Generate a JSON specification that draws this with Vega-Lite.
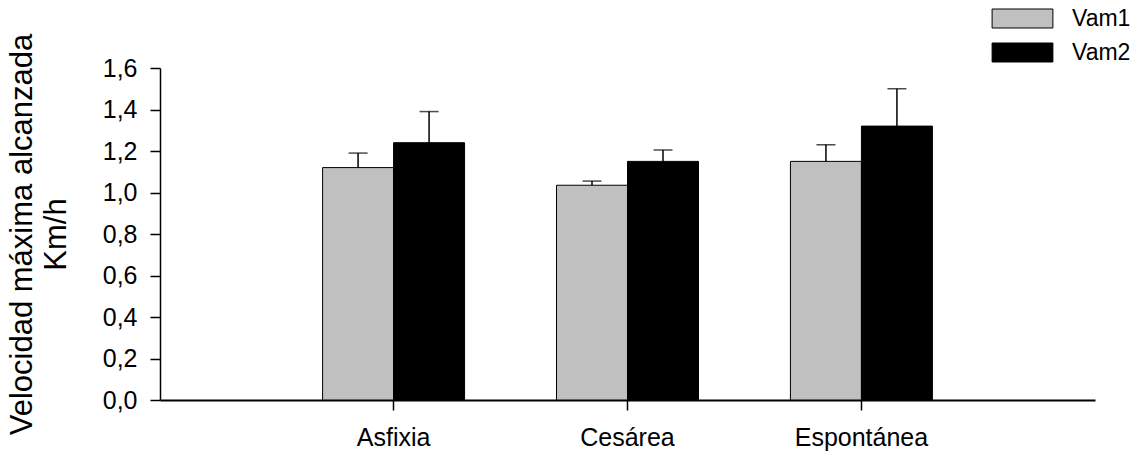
{
  "$schema": "https://vega.github.io/schema/vega-lite/v6.json",
  "width": 935,
  "height": 332,
  "autosize": "none",
  "padding": {"left": 160, "top": 68, "right": 47, "bottom": 52},
  "background": "white",
  "config": {
    "view": {"stroke": null},
    "font": "Liberation Sans",
    "axis": {"grid": false, "domainColor": "#000", "tickColor": "#000", "labelColor": "#000", "titleColor": "#000"}
  },
  "data": {
    "values": [
      {"grupo": "Asfixia", "serie": "Vam1", "valor": 1.12, "sup": 1.19},
      {"grupo": "Asfixia", "serie": "Vam2", "valor": 1.24, "sup": 1.39},
      {"grupo": "Cesárea", "serie": "Vam1", "valor": 1.035, "sup": 1.055},
      {"grupo": "Cesárea", "serie": "Vam2", "valor": 1.15, "sup": 1.205},
      {"grupo": "Espontánea", "serie": "Vam1", "valor": 1.15, "sup": 1.23},
      {"grupo": "Espontánea", "serie": "Vam2", "valor": 1.32, "sup": 1.5}
    ]
  },
  "encoding": {
    "x": {
      "field": "grupo", "type": "nominal", "sort": ["Asfixia", "Cesárea", "Espontánea"],
      "scale": {"paddingInner": 0.393, "paddingOuter": 0.695},
      "axis": {"title": null, "labelAngle": 0, "labelFontSize": 25, "tickSize": 10, "labelPadding": 15, "domainWidth": 2, "tickWidth": 1.5}
    },
    "xOffset": {"field": "serie", "type": "nominal", "scale": {"paddingInner": 0, "paddingOuter": 0}}
  },
  "layer": [
    {
      "mark": {"type": "bar", "stroke": "#000", "strokeWidth": 1},
      "encoding": {
        "y": {
          "field": "valor", "type": "quantitative",
          "scale": {"domain": [0, 1.6], "nice": false},
          "axis": {
            "values": [0, 0.2, 0.4, 0.6, 0.8, 1.0, 1.2, 1.4, 1.6],
            "labelExpr": "replace(format(datum.value, '.1f'), '.', ',')",
            "labelFontSize": 25, "tickSize": 10, "labelPadding": 13,
            "domainWidth": 1.5, "tickWidth": 1.5,
            "title": ["Velocidad máxima alcanzada", "Km/h"],
            "titleFontSize": 31, "titleFontWeight": "normal", "titleLineHeight": 34, "titlePadding": 30
          }
        },
        "color": {
          "field": "serie", "type": "nominal",
          "scale": {"domain": ["Vam1", "Vam2"], "range": ["#c0c0c0", "#000000"]},
          "legend": {
            "orient": "none", "legendX": 851, "legendY": -61, "title": null, "padding": 0,
            "symbolType": "M-3.2,-1H3.2V1H-3.2Z", "symbolSize": 361,
            "symbolStrokeColor": "#000", "symbolStrokeWidth": 1,
            "labelFontSize": 23, "labelOffset": 38, "rowPadding": 10, "labelColor": "#000"
          }
        }
      }
    },
    {
      "mark": {"type": "rule", "strokeWidth": 1.5, "color": "#000"},
      "encoding": {
        "y": {"field": "valor", "type": "quantitative"},
        "y2": {"field": "sup"}
      }
    },
    {
      "mark": {"type": "tick", "orient": "horizontal", "size": 19, "thickness": 1.5, "color": "#000"},
      "encoding": {
        "y": {"field": "sup", "type": "quantitative"}
      }
    }
  ]
}
